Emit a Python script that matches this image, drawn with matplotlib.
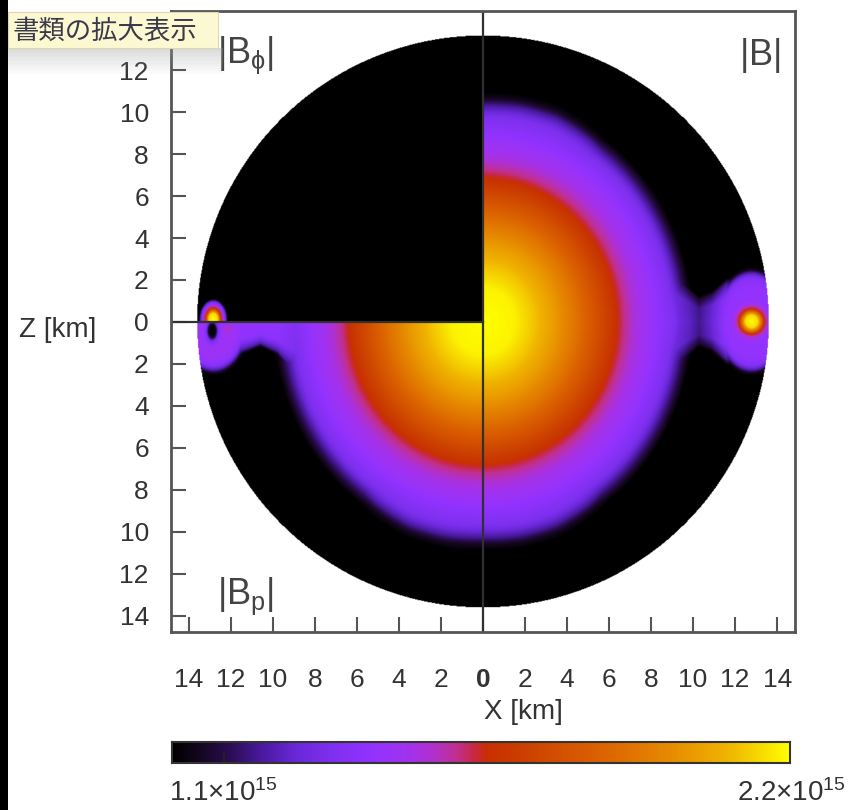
import numpy as np
import matplotlib
matplotlib.use('Agg')
import matplotlib.pyplot as plt
from matplotlib.colors import LinearSegmentedColormap
from matplotlib.patches import Rectangle

plt.rcParams['font.family'] = ['Liberation Sans', 'DejaVu Sans']
plt.rcParams['mathtext.fontset'] = 'custom'
plt.rcParams['mathtext.rm'] = 'Liberation Sans'
plt.rcParams['mathtext.it'] = 'Liberation Sans:italic'
plt.rcParams['mathtext.fallback'] = 'stixsans'

W, H = 848, 810

# field strength in units of 1e15 G
B_MIN, B_MAX = 1.0, 2.2
B_TICKS = [1.1, 2.2]
R_STAR = 13.62
LIM = 14.85

# central blob: |B| against elliptic radius (km)
core_r = [0.0, 1.5, 2.5, 3.5, 4.5, 5.5, 6.2, 6.7, 7.3, 8.0, 9.0, 10.0]
core_b = [2.2, 2.18, 2.10, 2.0, 1.88, 1.74, 1.64, 1.56, 1.48, 1.42, 1.30, 1.0]
core_zstretch = 1.07
# outer edge of the closed-field band vs angle from the z axis (deg -> km)
band_theta = [0, 10, 20, 30, 40, 50, 60, 70, 80, 90]
band_edge = [10.6, 10.65, 10.6, 10.35, 10.0, 9.6, 9.4, 9.5, 9.8, 10.0]
# band level against r / edge
band_q = [0.0, 0.75, 0.85, 0.92, 0.97, 1.0, 1.03]
band_b = [1.42, 1.42, 1.37, 1.30, 1.17, 1.06, 1.0]

# twisted torus in |B| (right half)
torus_x = 12.8
spot_d = [0.0, 0.3, 0.45, 0.6, 0.75, 0.95, 1.1]
spot_b = [2.2, 2.14, 1.9, 1.62, 1.5, 1.41, 1.0]
halo_size = [1.7, 2.45]
halo_d = [0.0, 0.7, 0.85, 0.95, 1.0, 1.06]
halo_b = [1.40, 1.39, 1.34, 1.18, 1.06, 1.0]
# neck between band and torus: half width and level along x
neck_x = [8.6, 9.8, 10.3, 10.9, 11.6, 12.3]
neck_w = [2.8, 1.45, 1.05, 1.25, 1.8, 2.0]
neck_lvl = [1.30, 1.22, 1.16, 1.24, 1.38, 1.0]
neck_q = [0.0, 0.6, 1.0, 1.15]
neck_k = [1.0, 0.95, 0.45, 0.0]

# |Bp| torus (lower left): ring with a hole at the O-point
bp_torus_x = -12.85
bp_halo_b = [1.43, 1.43, 1.36, 1.18, 1.06, 1.0]
bp_hole = [-12.9, -0.45, 0.28, 0.5]
hole_d = [0.0, 0.6, 1.0, 1.6]
hole_k = [0.0, 0.1, 0.7, 1.0]
bridge_x = [-12.6, -11.7, -10.6, -9.8, -8.6]
bridge_w = [2.2, 1.45, 1.05, 1.4, 2.8]
bridge_lvl = [1.41, 1.40, 1.39, 1.39, 1.30]
pink_c = [-12.15, -0.4, 0.35]
pink_d = [0.0, 0.6, 1.0]
pink_b = [1.52, 1.46, 1.0]

# |Bphi| spot (upper left)
bphi_c = [-12.85, 0.1]
bphi_size = [0.6, 0.85]
bphi_d = [0.0, 0.35, 0.6, 0.8, 1.0, 1.15]
bphi_b = [2.2, 2.14, 1.66, 1.46, 1.24, 1.0]

x_ticks = list(range(-14, 15, 2))
z_ticks = list(range(-14, 15, 2))

cmap_pos = [0.0, 0.04, 0.09, 0.145, 0.2, 0.26, 0.32, 0.38, 0.42, 0.46, 0.49,
            0.51, 0.57, 0.7, 0.8, 0.9, 0.97, 1.0]
cmap_col = ['#000000', '#12061c', '#2a0c50', '#4a1aa0', '#6a28d8', '#8030f0',
            '#9232ff', '#a232f0', '#b030d0', '#c03090', '#c82840', '#c83000',
            '#cc4000', '#dc6400', '#e68800', '#f0b400', '#fae600', '#ffff00']
cmap = LinearSegmentedColormap.from_list('bfield', list(zip(cmap_pos, cmap_col)))
cmap.set_bad('white')


def ellipse_d(dx, dz, sx, sz):
    return np.hypot(dx / sx, dz / sz)


def lookup(v, xs, ys):
    return np.interp(v, xs, ys, left=ys[0], right=B_MIN)


def channel(x, az, xs, ws, lvls):
    # a band along z=0 whose half width and level change with x
    inside = (x >= min(xs)) & (x <= max(xs))
    w = np.interp(x, xs, ws)
    lvl = np.interp(x, xs, lvls)
    k = np.interp(az / w, neck_q, neck_k)
    return np.where(inside, B_MIN + (lvl - B_MIN) * k, B_MIN)


n = 900
g = np.linspace(-LIM, LIM, n)
X, Z = np.meshgrid(g, g)
ax_ = np.abs(X)
az_ = np.abs(Z)
r = np.hypot(X, Z)
theta = np.degrees(np.arctan2(ax_, az_))
edge = np.interp(theta, band_theta, band_edge)
core = np.fmax(lookup(np.hypot(X, Z / core_zstretch), core_r, core_b),
               lookup(r / edge, band_q, band_b))

# right half: |B|
spot = lookup(np.hypot(X - torus_x, Z), spot_d, spot_b)
halo = lookup(ellipse_d(X - torus_x, Z, *halo_size), halo_d, halo_b)
neck = channel(X, az_, neck_x, neck_w, neck_lvl)
b_tot = np.fmax.reduce([core, spot, halo, neck])

# lower left: |Bp|
bp_halo = lookup(ellipse_d(X - bp_torus_x, Z, *halo_size), halo_d, bp_halo_b)
hd = np.hypot((X - bp_hole[0]) / bp_hole[2], (Z - bp_hole[1]) / bp_hole[3])
bp_halo = B_MIN + (bp_halo - B_MIN) * np.interp(hd, hole_d, hole_k)
bp_bridge = channel(X, az_, bridge_x, bridge_w, bridge_lvl)
bp_bridge = B_MIN + (bp_bridge - B_MIN) * np.interp(hd, hole_d, hole_k)
pink = lookup(np.hypot(X - pink_c[0], Z - pink_c[1]) / pink_c[2], pink_d, pink_b)
b_pol = np.fmax.reduce([core, bp_halo, bp_bridge, pink])

# upper left: |Bphi|
b_phi = lookup(ellipse_d(X - bphi_c[0], Z - bphi_c[1], *bphi_size), bphi_d, bphi_b)

field = np.where(X >= 0, b_tot, np.where(Z < 0, b_pol, b_phi))
field = np.ma.masked_where(r > R_STAR, field)

fig = plt.figure(figsize=(W / 100, H / 100), dpi=100)
fig.patch.set_facecolor('white')

ax = fig.add_axes([171 / W, 1 - 632 / H, 624 / W, 621 / H])
ax.imshow(field, extent=[-LIM, LIM, -LIM, LIM], origin='lower', cmap=cmap,
          vmin=B_MIN, vmax=B_MAX, interpolation='bilinear', aspect='auto')
ax.set_xlim(-LIM, LIM)
ax.set_ylim(-14.78, 14.82)
ax.axvline(0, color='#303030', lw=1.6)
ax.plot([-LIM, 0], [0, 0], color='#303030', lw=1.6)

ax.set_xticks(x_ticks)
ax.set_xticklabels([str(abs(v)) for v in x_ticks])
ax.set_yticks(z_ticks)
# the top "14" sits under the viewer tooltip
ax.set_yticklabels([str(abs(v)) if v < 14 else '' for v in z_ticks])
ax.tick_params(direction='in', length=11, width=1.5, color='#555555',
               labelsize=19, labelcolor='#333333', top=False, right=False)
ax.tick_params(axis='x', pad=26)
ax.tick_params(axis='y', pad=16)
for lab in ax.get_xticklabels():
    if lab.get_text() == '0':
        lab.set_fontweight('bold')
for s in ax.spines.values():
    s.set_color('#555555')
    s.set_linewidth(2.0)


def ftext(x, y, s, **kw):
    fig.text(x / W, 1 - y / H, s, **kw)


ftext(217, 63, r'$\mathregular{|B_{\phi}|}$', fontsize=26, color='#444444', va='baseline', ha='left')
ftext(781, 65, r'$\mathregular{|B|}$', fontsize=26, color='#444444', va='baseline', ha='right')
ftext(217, 604, r'$\mathregular{|B_{p}|}$', fontsize=26, color='#444444', va='baseline', ha='left')
ftext(58, 330, 'Z [km]', fontsize=20, color='#333333', ha='center', va='center')
ftext(523, 712, 'X [km]', fontsize=20, color='#333333', ha='center', va='center')

# colour bar
cax = fig.add_axes([172 / W, 1 - 763 / H, 618 / W, 21 / H])
grad = np.linspace(B_MIN, B_MAX, 512)[None, :]
cax.imshow(grad, extent=[B_MIN, B_MAX, 0, 1], cmap=cmap, vmin=B_MIN, vmax=B_MAX, aspect='auto')
cax.set_xlim(B_MIN, B_MAX)
cax.set_ylim(0, 1)
cax.plot([B_TICKS[0]] * 2, [0, 0.45], color='#222222', lw=1.5)
cax.set_xticks([])
cax.set_yticks([])
for s in cax.spines.values():
    s.set_color('#333333')
    s.set_linewidth(1.5)
cb_lab = [f'{v:.1f}×10$^{{\\mathregular{{15}}}}$' for v in B_TICKS]
ftext(172 + (B_TICKS[0] - B_MIN) / (B_MAX - B_MIN) * 618, 801, cb_lab[0], fontsize=20,
      color='#333333', ha='center', va='baseline')
ftext(846, 801, cb_lab[1], fontsize=20, color='#333333', ha='right', va='baseline')

# screenshot furniture: black strip on the left and the viewer tooltip
fig.patches.append(Rectangle((0, 0), 8 / W, 1, transform=fig.transFigure,
                             fc='black', ec='none', zorder=12))
for i in range(10):
    fig.patches.append(Rectangle((8 / W, 1 - (48 + 2.6 * (i + 1)) / H), 215 / W, 2.6 / H,
                                 transform=fig.transFigure, fc='#9a9a9a',
                                 alpha=0.35 * (1 - i / 10), ec='none', zorder=10))
fig.patches.append(Rectangle((8 / W, 1 - 48 / H), 210 / W, 36 / H, transform=fig.transFigure,
                             fc='#fcf8d2', ec='#dcd8b4', lw=0.8, zorder=11))
ftext(13, 31, '書類の拡大表示', fontsize=19, color='#3a3a4a', ha='left', va='center',
      family=['Noto Sans CJK JP', 'DejaVu Sans'], zorder=13)

fig.savefig('out.png', dpi=100)
